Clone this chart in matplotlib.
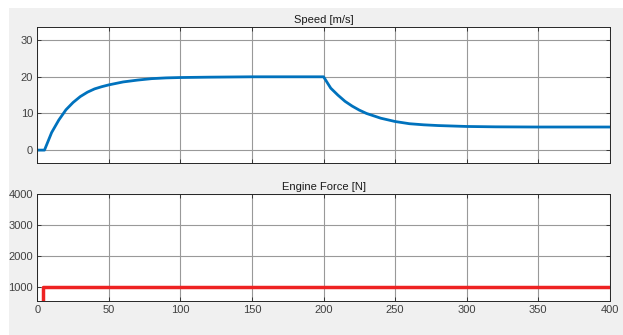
import matplotlib
matplotlib.use('Agg')
import matplotlib.pyplot as plt
from matplotlib.patches import Rectangle

# Speed [m/s]
time_s = [0, 5, 10, 15, 20, 25, 30, 35, 40, 45, 50, 60, 70, 80, 90, 100, 120, 150, 200,
          205, 210, 215, 220, 225, 230, 240, 250, 260, 270, 280, 300, 320, 350, 400]
speed = [0, 0, 4.8, 8.2, 11.0, 13.0, 14.6, 15.8, 16.7, 17.3, 17.8, 18.6, 19.1, 19.5, 19.7, 19.8, 19.9, 20.0, 20.0,
         16.9, 15.0, 13.3, 12.0, 10.9, 10.0, 8.7, 7.8, 7.2, 6.9, 6.7, 6.45, 6.35, 6.3, 6.3]

# Engine force [N], step
force_t = [0, 4, 4, 400]
force = [0, 0, 1000, 1000]

x_ticks = [0, 50, 100, 150, 200, 250, 300, 350, 400]
speed_ticks = [0, 10, 20, 30]
force_ticks = [1000, 2000, 3000, 4000]

bg = '#f0f0f0'
txt = '#404040'
plt.rcParams['font.family'] = ['Liberation Sans', 'DejaVu Sans']
plt.rcParams['font.size'] = 8

fig = plt.figure(figsize=(6.23, 3.35), dpi=100)
fig.patch.set_facecolor('white')
fig.patches.append(Rectangle((9 / 623, 0), 1, 1 - 8 / 335, transform=fig.transFigure,
                             facecolor=bg, edgecolor='none', zorder=-10))

ax1 = fig.add_axes([0.0599, 0.5125, 0.919, 0.406])
ax2 = fig.add_axes([0.0599, 0.1015, 0.919, 0.3185])

ax1.plot(time_s, speed, color='#0072BD', linewidth=2.0)
ax1.set_ylim(-3.6, 33.5)
ax1.set_yticks(speed_ticks)
ax1.set_title('Speed [m/s]', fontsize=8, color='#1a1a1a', pad=3)
ax1.tick_params(labelbottom=False)

ax2.plot(force_t, force, color='#ee2222', linewidth=2.5)
ax2.set_ylim(530, 4000)
ax2.set_yticks(force_ticks)
ax2.set_title('Engine Force [N]', fontsize=8, color='#1a1a1a', pad=3)

for ax in (ax1, ax2):
    ax.set_xlim(0, 400)
    ax.set_xticks(x_ticks)
    ax.set_facecolor('white')
    ax.grid(True, color='#999999', linewidth=0.8)
    ax.set_axisbelow(True)
    ax.tick_params(direction='in', length=3, width=0.6, top=True, right=True,
                   colors='#262626', labelcolor=txt, labelsize=8, pad=3)
    for s in ax.spines.values():
        s.set_color('#262626')
        s.set_linewidth(0.7)

fig.savefig('out.png', dpi=100, facecolor=fig.get_facecolor())
